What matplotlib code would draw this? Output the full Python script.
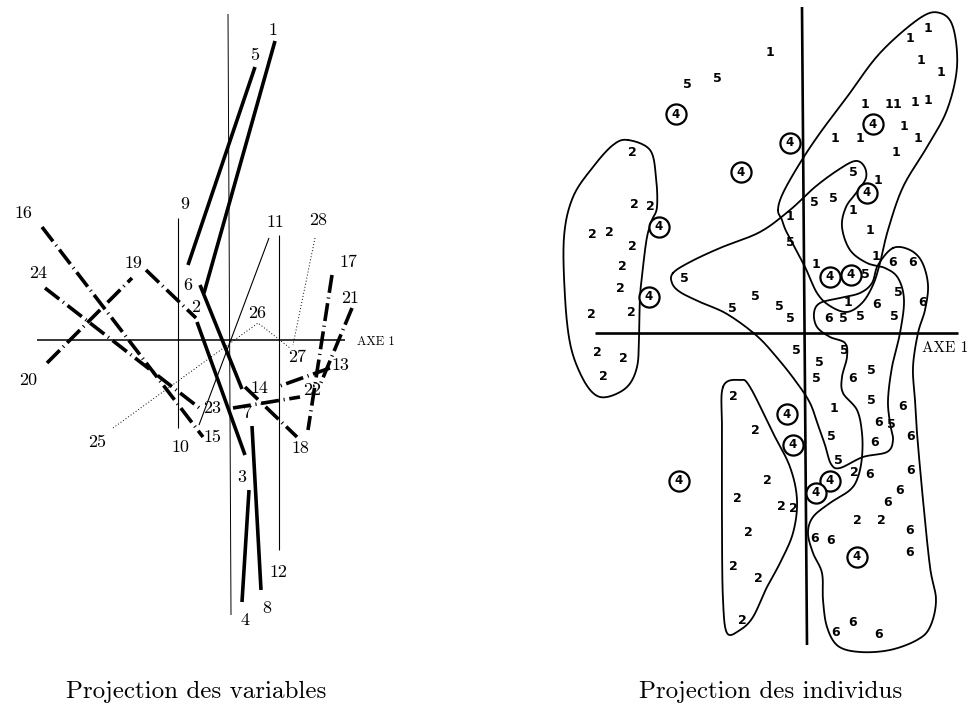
import numpy as np
import matplotlib
matplotlib.use("Agg")
import matplotlib.pyplot as plt

# ---------------------------------------------------------------- left panel
# coordinates are in the units of the printed plot (origin = axis crossing)
axis1_left = [(-192, 0), (116, 0)]
axis2_left = [(-1, 326), (2, -275)]

# (start, end) of each variable segment, grouped by stroke type
thick_segments = [
    ((46, 299), (-25, 47)),      # 1 - 2
    ((26, 273), (-41, 75)),      # 5 - 6
    ((-29, 55), (13, -49)),      # 6 - 14
    ((-32, 18), (16, -115)),     # 2 - 3
    ((20, -150), (13, -262)),    # 3 - 4
    ((23, -86), (32, -250)),     # 7 - 8
]
dashed_segments = [
    ((-187, 113), (-26, -97)),   # 16 - 15
    ((-184, 52), (-27, -70)),    # 24 - 23
    ((-182, -23), (-97, 62)),    # 20 - 19
    ((-83, 70), (-33, 22)),      # 19 - 2
    ((103, 65), (79, -90)),      # 17 - 18
    ((123, 32), (91, -45)),      # 21 - 22
    ((101, -28), (48, -47)),     # 13 - 14
    ((4, -68), (71, -57)),       # 23 - 22
    ((16, -47), (68, -97)),      # 14 - 18
]
thin_segments = [
    ((-51, 122), (-51, -88)),    # 9 - 10
    ((50, 105), (50, -210)),     # 11 - 12
    ((40, 102), (-30, -85)),
]
dotted_paths = [
    [(-116, -88), (29, 17), (61, -8)],   # 25 - 26 - 27
    [(86, 102), (64, -5)],               # 28 - 27
]
var_labels = ["1", "5", "9", "16", "24", "19", "6", "2", "11", "28", "17", "21",
              "26", "27", "13", "20", "14", "22", "23", "7", "15", "25", "10",
              "18", "3", "12", "8", "4"]
var_x = [44, 26, -44, -206, -191, -96, -41, -33, 46, 89, 119, 121,
         28, 68, 111, -201, 30, 83, -17, 18, -17, -132, -49,
         71, 13, 49, 38, 16]
var_y = [310, 285, 136, 127, 67, 77, 55, 33, 118, 120, 78, 42,
         27, -17, -25, -40, -48, -50, -68, -73, -97, -102, -107,
         -108, -137, -232, -268, -280]

# --------------------------------------------------------------- right panel
axis1_right = [(-210, 0), (153, 0)]
axis2_right = [(-3, 326), (2, -312)]

ind_1 = [(-35, 281), (105, 294), (123, 305), (116, 272), (136, 261), (60, 228),
         (84, 229), (92, 229), (110, 231), (123, 233), (99, 207), (30, 195),
         (55, 195), (113, 195), (91, 181), (73, 153), (48, 122), (-15, 117),
         (65, 103), (71, 76), (11, 69), (43, 31), (29, -75)]
ind_2 = [(-173, 181), (-171, 129), (-155, 126), (-213, 99), (-196, 100),
         (-173, 86), (-183, 66), (-185, 44), (-214, 19), (-174, 21),
         (-208, -19), (-182, -26), (-202, -43), (-72, -64), (-50, -98),
         (-38, -148), (-68, -166), (-24, -173), (-12, -176), (-57, -200),
         (-72, -234), (-47, -246), (-63, -287), (49, -139), (52, -188), (76, -188)]
ind_4 = [(-129, 219), (-15, 190), (-64, 161), (68, 209), (62, 140), (-146, 106),
         (-156, 36), (25, 56), (46, 58), (-18, -81), (-12, -112), (25, -148),
         (11, -160), (52, -224), (-126, -148)]
ind_5 = [(-118, 248), (-88, 255), (48, 161), (9, 131), (28, 135), (-15, 90),
         (60, 59), (93, 40), (38, 15), (55, 17), (89, 17), (-121, 55), (-73, 25),
         (-50, 36), (-26, 27), (-15, 15), (-9, -17), (14, -30), (11, -46),
         (39, -17), (66, -37), (66, -67), (86, -91), (26, -103), (33, -128)]
ind_6 = [(88, 70), (108, 70), (118, 30), (72, 28), (24, 14), (48, -46), (98, -73),
         (74, -90), (106, -104), (70, -110), (106, -137), (65, -142), (95, -158),
         (83, -170), (105, -197), (10, -205), (26, -207), (105, -220), (31, -300),
         (48, -290), (74, -302)]

# hand-drawn group outlines (closed)
group_2_upper = [(-177, 193), (-155, 183), (-149, 156), (-148, 126), (-153, 113),
                 (-158, 96), (-162, 66), (-165, 36), (-166, -4), (-168, -34),
                 (-178, -54), (-198, -64), (-212, -60), (-225, -40), (-235, -10),
                 (-240, 36), (-241, 96), (-232, 136), (-212, 166), (-192, 188)]
group_1 = [(-27, 123), (-22, 140), (-5, 170), (15, 200), (42, 236), (75, 280),
           (115, 315), (135, 320), (148, 306), (152, 266), (142, 223), (122, 186),
           (98, 146), (83, 103), (75, 70), (68, 48), (57, 30), (42, 21), (25, 27),
           (12, 40), (0, 66), (-18, 100), (-23, 113)]
group_5 = [(-132, 60), (-115, 71), (-85, 85), (-45, 101), (-15, 123), (10, 146),
           (33, 163), (50, 172), (59, 167), (61, 155), (52, 141), (41, 126),
           (37, 106), (45, 83), (62, 70), (80, 65), (93, 55), (99, 33), (95, 0),
           (87, -34), (83, -67), (85, -90), (88, -107), (82, -119), (58, -124),
           (35, -135), (26, -131), (20, -112), (13, -92), (5, -70), (-8, -50),
           (-26, -27), (-48, -3), (-78, 19), (-105, 31), (-125, 41), (-133, 50)]
group_6 = [(88, 85), (105, 83), (117, 71), (123, 48), (120, 23), (113, 0),
           (108, -34), (110, -67), (112, -100), (118, -167), (125, -234),
           (131, -267), (125, -294), (112, -307), (85, -317), (55, -319),
           (33, -313), (22, -294), (18, -267), (17, -240), (8, -220), (3, -200),
           (8, -184), (25, -170), (45, -157), (53, -144), (57, -124), (57, -100),
           (52, -77), (38, -60), (37, -44), (42, -24), (40, -10), (25, -4),
           (12, 6), (9, 20), (15, 30), (35, 35), (55, 40), (67, 50), (73, 68)]
group_2_lower = [(-82, -54), (-65, -47), (-55, -54), (-32, -100), (-15, -134),
                 (-8, -167), (-12, -200), (-25, -230), (-38, -254), (-52, -284),
                 (-65, -297), (-78, -300), (-82, -267), (-83, -200), (-83, -100)]


def smooth_closed(pts, n=14):
    """Closed Catmull-Rom curve through the outline points."""
    p = np.asarray(pts, dtype=float)
    p0, p1, p2, p3 = np.roll(p, 1, 0), p, np.roll(p, -1, 0), np.roll(p, -2, 0)
    t = np.linspace(0, 1, n, endpoint=False)[:, None, None]
    c = 0.5 * ((2 * p1) + (-p0 + p2) * t + (2 * p0 - 5 * p1 + 4 * p2 - p3) * t**2
               + (-p0 + 3 * p1 - 3 * p2 + p3) * t**3)
    c = c.transpose(1, 0, 2).reshape(-1, 2)
    return np.vstack([c, c[:1]])


def draw_seg(ax, seg, **kw):
    (x0, y0), (x1, y1) = seg
    ax.plot([x0, x1], [y0, y1], solid_capstyle="butt", dash_capstyle="butt", **kw)


fig = plt.figure(figsize=(9.72, 7.13), dpi=100)
serif = "cmr10"

# ---- left: projection des variables
axl = fig.add_axes([0, 0, 418 / 972, 1])
axl.set_xlim(-229, 189)
axl.set_ylim(-373, 340)
axl.axis("off")

draw_seg(axl, axis1_left, color="black", lw=1.1)
draw_seg(axl, axis2_left, color="black", lw=0.7)
for seg in thin_segments:
    draw_seg(axl, seg, color="black", lw=0.8)
for path in dotted_paths:
    xs, ys = zip(*path)
    axl.plot(xs, ys, color="black", lw=0.7, linestyle=(0, (1, 2.2)))
for seg in thick_segments:
    draw_seg(axl, seg, color="black", lw=2.6)
for seg in dashed_segments:
    draw_seg(axl, seg, color="black", lw=2.6, linestyle=(0, (5, 1.3, 0.3, 1.3)))

for lab, x, y in zip(var_labels, var_x, var_y):
    axl.text(x, y, lab, ha="center", va="center", fontsize=13, family=serif,
             color="black")
axl.text(128, -2, "AXE 1", ha="left", va="center", fontsize=9, family=serif)

# ---- right: projection des individus
axr = fig.add_axes([418 / 972, 0, 554 / 972, 1])
axr.set_xlim(-387, 167)
axr.set_ylim(-380, 333)
axr.axis("off")

draw_seg(axr, axis1_right, color="black", lw=1.9)
draw_seg(axr, axis2_right, color="black", lw=1.9)

for outline in [group_2_upper, group_1, group_5, group_6, group_2_lower]:
    c = smooth_closed(outline)
    axr.plot(c[:, 0], c[:, 1], color="black", lw=1.3)

for sym, pts in [("1", ind_1), ("2", ind_2), ("5", ind_5), ("6", ind_6)]:
    for x, y in pts:
        axr.text(x, y, sym, ha="center", va="center", fontsize=9,
                 fontweight="bold", family="DejaVu Sans")

c4x, c4y = zip(*ind_4)
axr.scatter(c4x, c4y, s=210, facecolors="white", edgecolors="black",
            linewidths=1.6, zorder=3)
for x, y in ind_4:
    axr.text(x, y, "4", ha="center", va="center", fontsize=8.5,
             fontweight="bold", family="DejaVu Sans", zorder=4)
axr.text(117, -15, "AXE 1", ha="left", va="center", fontsize=11, family=serif)

fig.text(196 / 972, 1 - 692 / 713, "Projection des variables", ha="center",
         va="center", fontsize=18, family=serif)
fig.text(771 / 972, 1 - 692 / 713, "Projection des individus", ha="center",
         va="center", fontsize=18, family=serif)

fig.savefig("out.png", dpi=100, facecolor="white")
